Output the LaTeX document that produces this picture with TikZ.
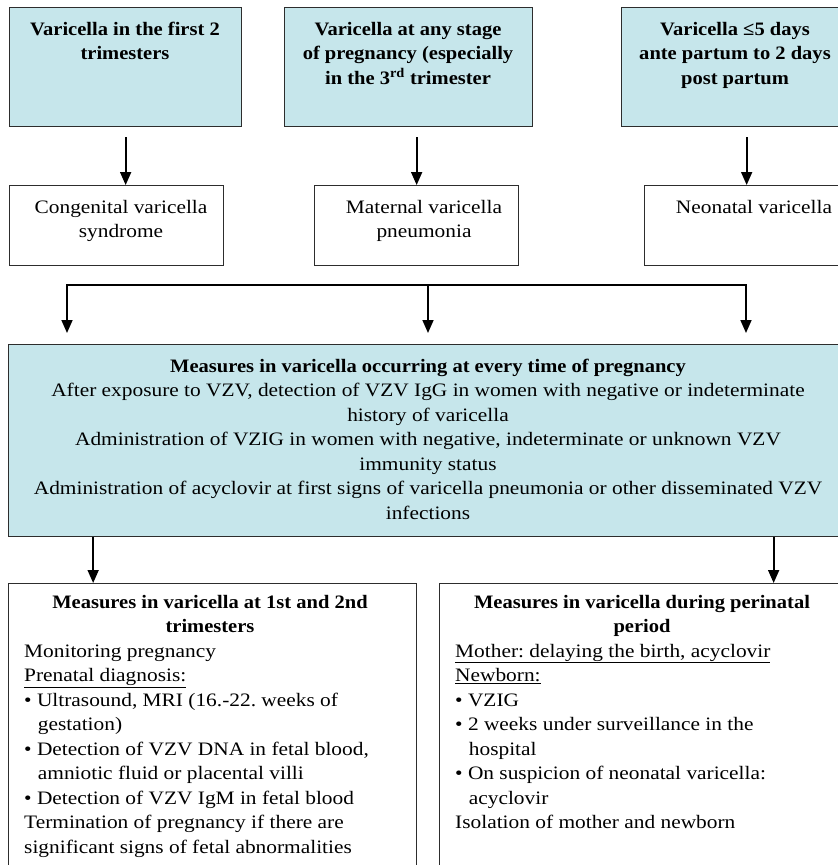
\documentclass[tikz,border=0pt]{standalone}
\usepackage{fontspec}
\setmainfont{Liberation Serif}[FakeStretch=1.125, BoldFeatures={FakeStretch=1.08}]
\usetikzlibrary{arrows.meta}
\definecolor{boxblue}{RGB}{198,230,235}
\definecolor{boxline}{RGB}{45,45,45}
\newcommand\myfs{\fontsize{19pt}{24.5pt}\selectfont\frenchspacing}
\newcommand\hangsp{\hspace*{0.72em}}
\begin{document}
\begin{tikzpicture}[x=1pt,y=-1pt,
  bluebox/.style={draw=boxline, line width=1.3pt, fill=boxblue, anchor=north west, inner sep=0pt},
  whitebox/.style={draw=boxline, line width=1.3pt, fill=white, anchor=north west, inner sep=0pt},
  arr/.style={draw=black, line width=1.7pt, -{Triangle[width=11pt,length=13pt]}},
  headtxt/.style={font=\myfs\bfseries, align=center, inner sep=0pt, anchor=base},
  plaintxt/.style={font=\myfs, align=center, inner sep=0pt, anchor=base},
  listtxt/.style={font=\myfs, align=left, inner sep=0pt, anchor=base west}]
\useasboundingbox (0,0) rectangle (838,865);
\clip (0,0) rectangle (838,865);
\fill[white] (0,0) rectangle (838,865);

% top row (text nodes anchored at the baseline of their last line)
\node[bluebox, minimum width=232pt, minimum height=119pt] (T1) at (9,7) {};
\node[bluebox, minimum width=248pt, minimum height=119pt] (T2) at (284,7) {};
\node[bluebox, minimum width=232pt, minimum height=119pt] (T3) at (621,7) {};
\node[headtxt] (T1t) at (125,59.5) {Varicella in the first 2\\trimesters};
\node[headtxt] (T2t) at (408,84) {Varicella at any stage\\of pregnancy (especially\\in the 3\textsuperscript{rd} trimester};
\node[headtxt] (T3t) at (735,84) {Varicella ≤5 days\\ante partum to 2 days\\post partum};

% second row
\node[whitebox, minimum width=214pt, minimum height=80pt] (M1) at (9,185) {};
\node[whitebox, minimum width=204pt, minimum height=80pt] (M2) at (314,185) {};
\node[whitebox, minimum width=220pt, minimum height=80pt] (M3) at (644,185) {};
\node[plaintxt] (M1t) at (121,237.5) {Congenital varicella\\syndrome};
\node[plaintxt] (M2t) at (424,237.5) {Maternal varicella\\pneumonia};
\node[plaintxt] (M3t) at (754,213) {Neonatal varicella};

\draw[arr, shorten <=10pt] (T1.south) -- (T1.south |- M1.north);
\draw[arr, shorten <=10pt] (M2.north |- T2.south) -- (M2.north);
\draw[arr, shorten <=10pt] ([xshift=9pt]T3.south) -- ([xshift=9pt]T3.south |- M3.north);

% big box
\node[bluebox, minimum width=840pt, minimum height=192pt] (Big) at (8,344) {};
\node[plaintxt] (Bigt) at (428,519) {\textbf{Measures in varicella occurring at every time of pregnancy}\\
After exposure to VZV, detection of VZV IgG in women with negative or indeterminate\\
history of varicella\\
Administration of VZIG in women with negative, indeterminate or unknown VZV\\
immunity status\\
Administration of acyclovir at first signs of varicella pneumonia or other disseminated VZV\\
infections};

\coordinate (bl) at (67,285);
\coordinate (bm) at (428,285);
\coordinate (br) at (746,285);
\draw[arr, shorten >=11pt] (bm) -| (bl |- Big.north);
\draw[arr, shorten >=11pt] (bm) -| (br |- Big.north);
\draw[arr, shorten >=11pt] (bm) -- (bm |- Big.north);

% bottom row
\node[whitebox, minimum width=408pt, minimum height=300pt] (B1) at (8,583) {};
\node[whitebox, minimum width=406pt, minimum height=300pt] (B2) at (439,583) {};

\draw[arr] ([xshift=-119.5pt]B1.north |- Big.south) -- ([xshift=-119.5pt]B1.north);
\draw[arr] ([xshift=131pt]B2.north |- Big.south) -- ([xshift=131pt]B2.north);

\node[headtxt] (B1h) at (210,632.5) {Measures in varicella at 1st and 2nd\\trimesters};
\node[listtxt] (B1b) at (24,853) {Monitoring pregnancy\\
\underline{Prenatal diagnosis:}\\
• Ultrasound, MRI (16.-22. weeks of\\
\hangsp gestation)\\
• Detection of VZV DNA in fetal blood,\\
\hangsp amniotic fluid or placental villi\\
• Detection of VZV IgM in fetal blood\\
Termination of pregnancy if there are\\
significant signs of fetal abnormalities};

\node[headtxt] (B2h) at (642,632.5) {Measures in varicella during perinatal\\period};
\node[listtxt] (B2b) at (455,828.5) {\underline{Mother: delaying the birth, acyclovir}\\
\underline{Newborn:}\\
• VZIG\\
• 2 weeks under surveillance in the\\
\hangsp hospital\\
• On suspicion of neonatal varicella:\\
\hangsp acyclovir\\
Isolation of mother and newborn};
\end{tikzpicture}
\end{document}
